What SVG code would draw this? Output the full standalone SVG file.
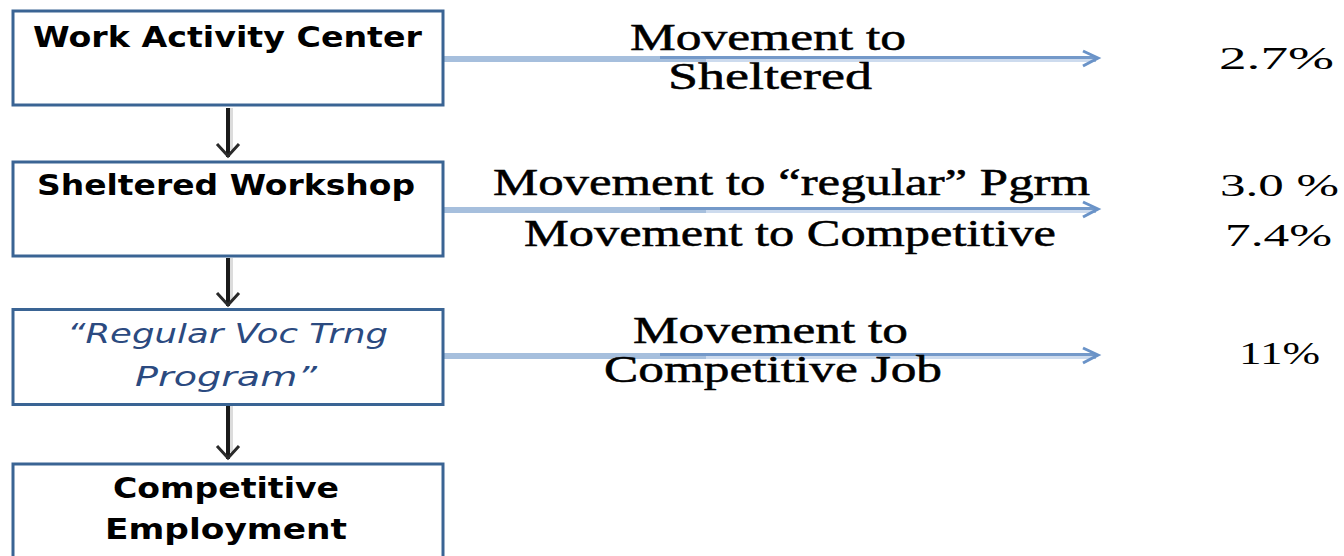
<svg xmlns="http://www.w3.org/2000/svg" width="1344" height="556" viewBox="0 0 1344 556">
<style>
.box{fill:#ffffff;stroke:#3a6494;stroke-width:3}
.lbl{font-family:"DejaVu Sans",Verdana,sans-serif;font-weight:bold;font-size:28px;fill:#000}
.ital{font-family:"DejaVu Sans",Verdana,sans-serif;font-style:italic;font-size:27px;fill:#2b4a80}
.ser{font-family:"Liberation Serif","Times New Roman",serif;font-size:37px;fill:#000;stroke:#000;stroke-width:0.5}
.pct{font-family:"Liberation Serif","Times New Roman",serif;font-size:32px;fill:#000}
.vline{stroke:#1a1a1a;stroke-width:4}
.vshadow{stroke:#dcdcdc;stroke-width:3}
.vhead{fill:none;stroke:#2a2a2a;stroke-width:3}
.hmain{stroke:#a6bfdd;stroke-width:6}
.hdark{stroke:#7499c9;stroke-width:3}
.hlight{stroke:#cddbee;stroke-width:3}
.hhead{fill:none;stroke:#6a93c8;stroke-width:3}
</style>
<rect width="1344" height="556" fill="#ffffff"/>
<g id="connectors">
  <g id="down1">
    <line class="vshadow" x1="231.5" y1="108" x2="231.5" y2="150"/>
    <line class="vline" x1="228" y1="108" x2="228" y2="157"/>
    <polyline class="vhead" points="217,144 228,156 239,144"/>
  </g>
  <g id="down2">
    <line class="vshadow" x1="231.5" y1="258" x2="231.5" y2="300"/>
    <line class="vline" x1="228" y1="258" x2="228" y2="306"/>
    <polyline class="vhead" points="217,293 228,305 239,293"/>
  </g>
  <g id="down3">
    <line class="vshadow" x1="231.5" y1="406" x2="231.5" y2="452"/>
    <line class="vline" x1="228" y1="406" x2="228" y2="459"/>
    <polyline class="vhead" points="217,446 228,458 239,446"/>
  </g>
  <g id="right1">
    <line class="hmain" x1="444" y1="59" x2="1096" y2="59"/>
    <line class="hdark" x1="660" y1="57.5" x2="1097" y2="57.5"/>
    <line class="hlight" x1="706" y1="60.5" x2="1094" y2="60.5"/>
    <polyline class="hhead" points="1083,51 1098,58 1083,66"/>
  </g>
  <g id="right2">
    <line class="hmain" x1="444" y1="210" x2="1096" y2="210"/>
    <line class="hdark" x1="660" y1="208.5" x2="1097" y2="208.5"/>
    <line class="hlight" x1="706" y1="211.5" x2="1094" y2="211.5"/>
    <polyline class="hhead" points="1083,202 1098,209 1083,217"/>
  </g>
  <g id="right3">
    <line class="hmain" x1="444" y1="356" x2="1096" y2="356"/>
    <line class="hdark" x1="660" y1="354.5" x2="1097" y2="354.5"/>
    <line class="hlight" x1="706" y1="357.5" x2="1094" y2="357.5"/>
    <polyline class="hhead" points="1083,348 1098,355 1083,363"/>
  </g>
</g>
<g id="node-wac">
  <rect class="box" x="13" y="11" width="430" height="94"/>
  <text class="lbl" x="33" y="47" textLength="389" lengthAdjust="spacingAndGlyphs">Work Activity Center</text>
</g>
<g id="node-sw">
  <rect class="box" x="13" y="162" width="430" height="94"/>
  <text class="lbl" x="37" y="195" textLength="378" lengthAdjust="spacingAndGlyphs">Sheltered Workshop</text>
</g>
<g id="node-rvtp">
  <rect class="box" x="13" y="309.5" width="430" height="95"/>
  <text class="ital" x="67" y="343" textLength="321" lengthAdjust="spacingAndGlyphs">“Regular Voc Trng</text>
  <text class="ital" x="135" y="386" textLength="182" lengthAdjust="spacingAndGlyphs">Program”</text>
</g>
<g id="node-ce">
  <rect class="box" x="13" y="464" width="430" height="110"/>
  <text class="lbl" x="113" y="498" textLength="226" lengthAdjust="spacingAndGlyphs">Competitive</text>
  <text class="lbl" x="105" y="539" textLength="242" lengthAdjust="spacingAndGlyphs">Employment</text>
</g>
<g id="labels">
  <text class="ser" x="630" y="50" textLength="276" lengthAdjust="spacingAndGlyphs">Movement to</text>
  <text class="ser" x="668" y="89" textLength="204" lengthAdjust="spacingAndGlyphs">Sheltered</text>
  <text class="pct" x="1219" y="69" textLength="115" lengthAdjust="spacingAndGlyphs">2.7%</text>
  <text class="ser" x="493" y="195" textLength="597" lengthAdjust="spacingAndGlyphs">Movement to “regular” Pgrm</text>
  <text class="ser" x="524" y="246" textLength="532" lengthAdjust="spacingAndGlyphs">Movement to Competitive</text>
  <text class="pct" x="1220" y="196" textLength="119" lengthAdjust="spacingAndGlyphs">3.0 %</text>
  <text class="pct" x="1225" y="246" textLength="107" lengthAdjust="spacingAndGlyphs">7.4%</text>
  <text class="ser" x="633" y="343" textLength="275" lengthAdjust="spacingAndGlyphs">Movement to</text>
  <text class="ser" x="604" y="382" textLength="338" lengthAdjust="spacingAndGlyphs">Competitive Job</text>
  <text class="pct" x="1239" y="364" textLength="81" lengthAdjust="spacingAndGlyphs">11%</text>
</g>
</svg>
